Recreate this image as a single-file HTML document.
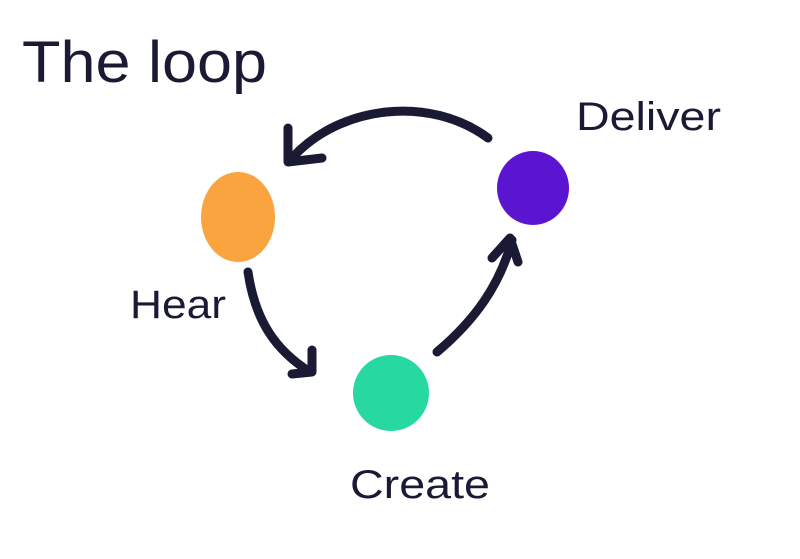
<!DOCTYPE html>
<html><head><style>
html,body{margin:0;padding:0;background:#fff;}
svg{display:block;}
text{font-family:"Liberation Sans",sans-serif;fill:#1a1a35;}
</style></head><body>
<svg width="800" height="559" viewBox="0 0 800 559" xmlns="http://www.w3.org/2000/svg">
<rect width="800" height="559" fill="#fff"/>
<text x="22" y="82" font-size="58" textLength="245" lengthAdjust="spacingAndGlyphs">The loop</text>
<text x="576" y="130" font-size="40" textLength="145" lengthAdjust="spacingAndGlyphs">Deliver</text>
<text x="130" y="318" font-size="40" textLength="96" lengthAdjust="spacingAndGlyphs">Hear</text>
<text x="350" y="498" font-size="40" textLength="140" lengthAdjust="spacingAndGlyphs">Create</text>
<ellipse cx="238" cy="217" rx="37" ry="45" fill="#f9a43f"/>
<ellipse cx="533" cy="188" rx="36" ry="37" fill="#5b14d0"/>
<ellipse cx="391" cy="393" rx="38" ry="38" fill="#27d8a0"/>
<g fill="none" stroke="#1a1a35" stroke-width="9" stroke-linecap="round" stroke-linejoin="round">
<path d="M488 138 C430 95 340 105 292 158"/>
<path d="M288 128 L288 162 L322 158"/>
<path d="M248 272 C255 320 275 350 310 372"/>
<path d="M292 374 L312 372 L312 350"/>
<path d="M437 352 C475 320 500 285 512 240"/>
<path d="M492 258 L510 238 L518 262"/>
</g>
</svg>
</body></html>
